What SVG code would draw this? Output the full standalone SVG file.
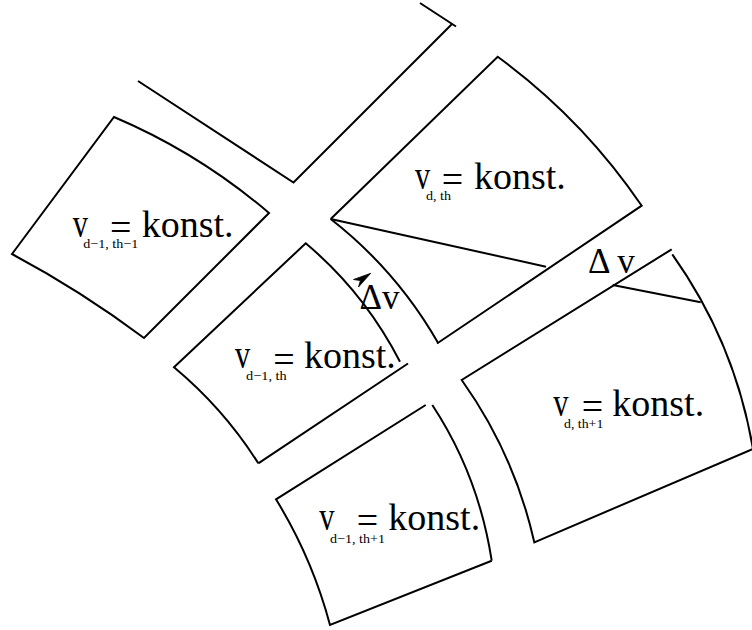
<svg xmlns="http://www.w3.org/2000/svg" width="752" height="630" viewBox="0 0 752 630">
<style>
.e{fill:none;stroke:#000;stroke-width:2;stroke-linejoin:miter;stroke-linecap:butt}
.t{font-family:"Liberation Serif","Times New Roman",serif;font-size:38px;fill:#000}
.s{font-family:"Liberation Serif","Times New Roman",serif;font-size:13px;fill:#000}
.d{font-family:"Liberation Serif","Times New Roman",serif;font-size:35px;fill:#000}
</style>
<rect width="752" height="630" fill="#fff"/>
<g id="boundary">
<path class="e" d="M138,81 L293.5,182.5 L452,24"/>
<path class="e" d="M420,3 L456,26.5"/>
</g>
<g id="cell-d1-th1">
<path class="e" d="M12,254 L114,117 Q198.9,153.1 269,213 L144,338 Q81.2,290.9 12,254 Z"/>
<text class="t" transform="translate(72.7,236.7) scale(0.8,1.1)">v</text>
<text class="t" x="110" y="240">=</text>
<text class="t" x="141.7" y="236.7">konst.</text>
<text class="s" x="83.3" y="248.3" textLength="55" lengthAdjust="spacingAndGlyphs">d−1, th−1</text>
</g>
<g id="cell-d-th">
<path class="e" d="M330.7,219 L497.7,56.7 Q582.4,118.6 641.7,205.7 L437,343.5"/>
<path class="e" d="M330.7,219 Q396.6,270.4 438.3,343.3"/>
<path class="e" d="M330.7,219 L546,266.7"/>
<text class="t" transform="translate(415,189) scale(0.8,1.1)">v</text>
<text class="t" x="441.7" y="192.3">=</text>
<text class="t" x="474" y="189">konst.</text>
<text class="s" x="426" y="200" textLength="25" lengthAdjust="spacingAndGlyphs">d, th</text>
</g>
<g id="cell-d1-th">
<path class="e" d="M258.3,463.3 Q223.7,408.7 174,367.3 L305.7,243.3 Q364.1,292.2 400,361.7"/>
<path class="e" d="M408,363.5 L258.3,463.3"/>
<text class="t" transform="translate(235,368.3) scale(0.8,1.1)">v</text>
<text class="t" x="273.3" y="371.6">=</text>
<text class="t" x="304" y="368.3">konst.</text>
<text class="s" x="246" y="380" textLength="40.7" lengthAdjust="spacingAndGlyphs">d−1, th</text>
</g>
<g id="cell-d-th1">
<path class="e" d="M671.7,249.3 L461.7,380 Q514.4,453.9 534.3,542.3 L753,449"/>
<path class="e" d="M672.3,254.3 Q735.1,342.8 753,449"/>
<path class="e" d="M612.7,285 L700.7,302.3"/>
<text class="t" transform="translate(553.3,415.7) scale(0.8,1.1)">v</text>
<text class="t" x="581.7" y="419">=</text>
<text class="t" x="612.3" y="415.7">konst.</text>
<text class="s" x="564" y="428.3" textLength="39.3" lengthAdjust="spacingAndGlyphs">d, th+1</text>
</g>
<g id="cell-d1-th1b">
<path class="e" d="M425.7,405 L276,499.3 Q312.2,558.2 330,625 L491.7,560.7"/>
<path class="e" d="M432.3,405 Q478.5,475.1 491.7,560.7"/>
<text class="t" transform="translate(319.3,530) scale(0.8,1.1)">v</text>
<text class="t" x="356.7" y="533.3">=</text>
<text class="t" x="388.3" y="530">konst.</text>
<text class="s" x="330" y="542.7" textLength="55" lengthAdjust="spacingAndGlyphs">d−1, th+1</text>
</g>
<g id="connectors">
<path d="M370.7,273.3 L353.5,279.5 L360.4,280.6 L358.5,287 Z" fill="#000" stroke="#000" stroke-width="0.8"/>
<text class="d" x="359.5" y="308.5">Δv</text>
<text class="d" x="588" y="272.5">Δ v</text>
</g>
</svg>
